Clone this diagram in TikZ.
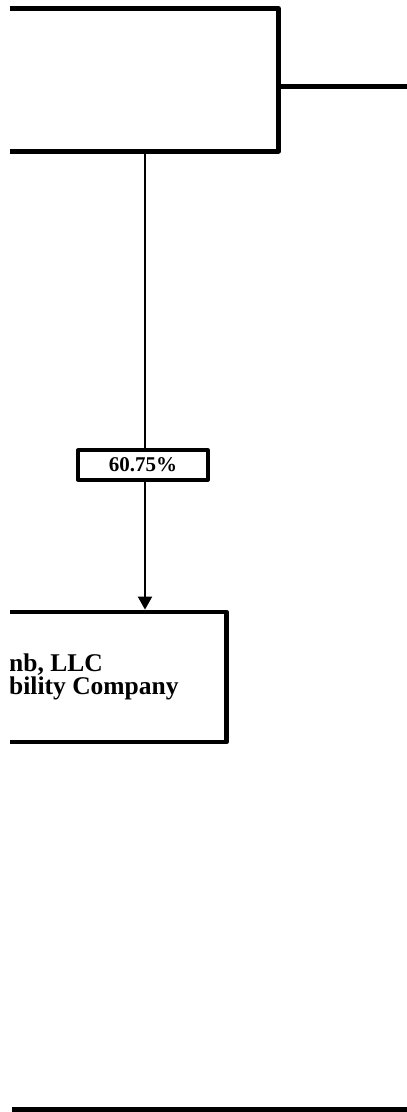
\documentclass[tikz,border=0pt]{standalone}
\usepackage{fontspec}
\setmainfont{Liberation Serif}
\usetikzlibrary{arrows.meta}
\tikzset{
  orgbox/.style={draw=black, rectangle, inner sep=0pt, line join=round},
  boxtext/.style={font=\bfseries\fontsize{25.5}{23.5}\selectfont, inner sep=0pt, align=left},
  pctbox/.style={draw=black, rectangle, inner sep=0pt, line width=3.6pt, line join=round,
    minimum width=130pt, minimum height=29.5pt, font=\bfseries\fontsize{21}{24}\selectfont},
  conn/.style={draw=black, line width=2pt},
}
\begin{document}
\begin{tikzpicture}[x=1pt,y=-1pt]
\useasboundingbox (0,0) rectangle (407,1112);
\begin{scope}
\clip (10,0) rectangle (407,1112);
% top box (extends beyond left edge)
\node[orgbox, line width=5pt, minimum width=378.5pt, minimum height=142.5pt] (top) at (89.25,79.75) {};
% bottom box
\node[orgbox, line width=4.8pt, minimum width=376.5pt, minimum height=130pt] (bot) at (38.25,677) {};
\node[boxtext, anchor=north west] (txt) at (9,653.5) {nb, LLC\\bility Company};
\end{scope}
% percentage label
\node[pctbox] (pct) at (143,465) {60.75\%};
% coordinates
\coordinate (rc) at (407,86.5);
\coordinate (vx) at (145,0);
\coordinate (bl) at (12,1109.5);
\coordinate (br) at (407,1109.5);
% connectors
\draw[line width=5pt] (top.east |- rc) -- (rc);
\draw[conn] (top.south -| vx) -- (pct.north -| vx);
\draw[conn, -{Triangle[width=14pt,length=13pt]}] (pct.south -| vx) -- (bot.north -| vx);
\draw[line width=5pt] (bl) -- (br);
\end{tikzpicture}
\end{document}
